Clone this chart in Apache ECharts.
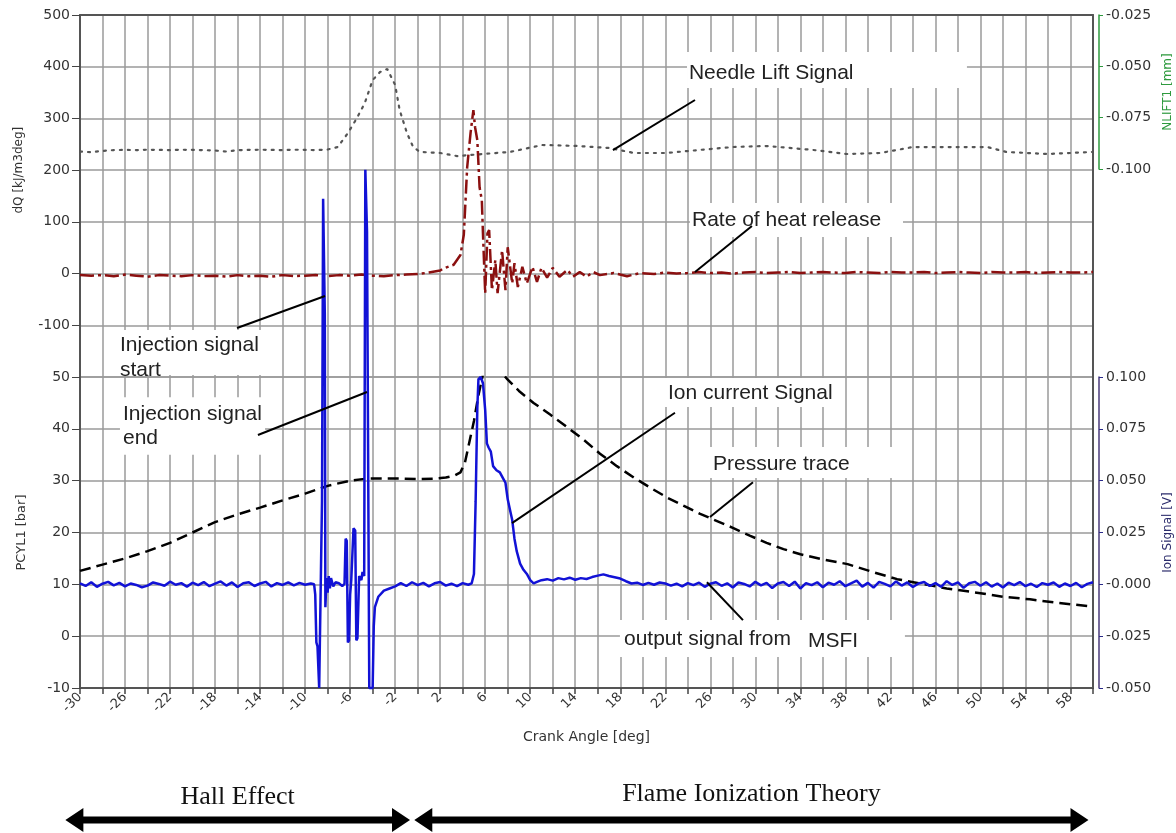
<!DOCTYPE html>
<html><head><meta charset="utf-8">
<script src="https://cdn.jsdelivr.net/npm/echarts@6/dist/echarts.min.js"></script>
<style>html,body{margin:0;padding:0;background:#fff}#c{width:1176px;height:833px}</style>
</head><body><div id="c"></div>
<script>
// ---------------- data (crank angle [deg], value) ----------------
const xRange = [-30, 60];
const dQRange = [-200, 500];
const nliftRange = [-0.1, -0.025];
const pcylRange = [-10, 50];
const ionRange = [-0.05, 0.1];

const needleLift = [
 [-30,-0.0915],[-29,-0.0918],[-28,-0.0912],[-27,-0.0908],[-26,-0.0907],[-25,-0.0908],[-24,-0.0906],[-23,-0.0907],
 [-22,-0.0908],[-21,-0.0906],[-20,-0.0907],[-19,-0.0908],[-18,-0.0910],[-17,-0.0915],[-16,-0.0908],[-15,-0.0907],
 [-14,-0.0906],[-13,-0.0907],[-12,-0.0908],[-11,-0.0906],[-10,-0.0907],[-9,-0.0908],[-8,-0.0905],[-7.1,-0.0893],
 [-6.2,-0.0825],[-5.4,-0.0752],[-4.7,-0.0679],[-4.0,-0.0567],[-3.35,-0.0528],[-2.7,-0.0513],[-2.0,-0.0591],
 [-1.6,-0.0713],[-0.95,-0.0825],[-0.4,-0.0893],[0.2,-0.0917],[2.0,-0.0922],[3.5,-0.0937],[5.8,-0.0927],
 [8.2,-0.0917],[11.1,-0.0883],[14.2,-0.0888],[17.1,-0.0898],[19.2,-0.0922],[22.1,-0.0922],[25.1,-0.0907],
 [28,-0.0893],[31,-0.0888],[35.1,-0.0907],[38.1,-0.0927],[41.1,-0.0922],[44,-0.0893],[47,-0.0893],
 [50.6,-0.0893],[52.3,-0.0917],[55.9,-0.0927],[60,-0.0917]
];

const heatRelease = [
 [-30,-3],[-29,-4],[-28,-3],[-27,-5],[-26,-2],[-25,-4],[-24,-6],[-23,-3],[-22,-4],[-21,-5],[-20,-3],[-19,-5],
 [-18,-4],[-17,-6],[-16,-3],[-15,-5],[-14,-4],[-13,-6],[-12,-3],[-11,-5],[-10,-4],[-9,-3],[-8,-5],[-7,-3],
 [-6,-4],[-5,-2],[-4,-4],[-3,-5],[-2,-3],[-1,-2],[0,-1],[1,2],[2,6],[2.3,10],[3.2,17],[3.8,36],[4.1,75],
 [4.4,206],[4.7,272],[4.95,316],[5.1,283],[5.3,258],[5.5,167],[5.7,142],[5.8,78],[6.0,-38],[6.2,78],[6.35,84],
 [6.6,-32],[6.9,26],[7.1,-38],[7.5,45],[7.8,-32],[8.0,51],[8.4,-19],[8.6,20],[8.9,-26],[9.3,13],[9.7,-19],
 [10.2,13],[10.6,-16],[11.0,11],[11.5,-8],[12.0,11],[12.6,-6],[13.3,7],[13.8,-6],[14.4,3],[15.0,-6],[15.6,3],
 [16.2,-3],[17.4,1],[18.6,-5],[19.8,1],[21,-1],[22,2],[23,0],[24,1],[25,3],[26,1],[27,2],[28,0],[29,2],[30,3],
 [31,1],[32,2],[33,3],[34,1],[35,2],[36,3],[37,2],[38,1],[39,3],[40,2],[41,1],[42,3],[43,2],[44,2],[45,3],
 [46,1],[47,2],[48,3],[49,2],[50,1],[51,3],[52,2],[53,2],[54,3],[55,1],[56,2],[57,3],[58,2],[59,2],[60,3]
];

const pressure = [
 [-30,12.6],[-28,13.8],[-26,15.0],[-24,16.4],[-22,18.0],[-20,20.0],[-18,22.0],[-16,23.5],[-14,24.8],[-12,26.2],
 [-10,27.5],[-8,29.0],[-6,30.0],[-4.5,30.4],[-3,30.4],[-1.5,30.4],[0,30.3],[1.5,30.4],[2.5,30.6],[3.3,31.0],
 [3.8,31.6],[4.2,33.5],[4.6,37.5],[5.0,41.5],[5.4,46.5],[5.8,50.5],[6.3,52.0],[6.8,51.8],[7.3,51.2],[8.0,49.5],
 [9.0,47.3],[10.3,45.0],[11.8,42.7],[13.3,40.3],[14.8,37.8],[16.2,35.2],[17.7,32.8],[19.2,30.6],[20.7,28.6],
 [22.2,26.7],[23.7,25.1],[25.1,23.6],[26.6,22.2],[28,20.9],[29.5,19.4],[31,18.0],[32.5,16.8],[34,15.8],
 [36,14.8],[38.2,13.9],[40.4,12.4],[42.6,11.0],[44.8,10.1],[47,9.2],[50,8.3],[52,7.6],[54.4,7.1],[57,6.4],[60,5.7]
];

const ionSignal = [
 [-30,0.0005],[-29.5,-0.0008],[-29,0.0010],[-28.5,-0.0012],[-28,0.0003],[-27.5,0.0012],[-27,-0.0005],[-26.5,0.0007],
 [-26,-0.0010],[-25.5,0.0004],[-25,-0.0003],[-24.5,-0.0014],[-24,-0.0006],[-23.5,0.0009],[-23,0.0002],[-22.5,-0.0007],
 [-22,0.0013],[-21.5,-0.0002],[-21,0.0006],[-20.5,-0.0011],[-20,0.0008],[-19.5,-0.0004],[-19,0.0011],[-18.5,-0.0009],
 [-18,0.0003],[-17.5,0.0014],[-17,-0.0006],[-16.5,0.0009],[-16,-0.0013],[-15.5,0.0005],[-15,0.0010],[-14.5,-0.0008],
 [-14,0.0004],[-13.5,0.0012],[-13,-0.0010],[-12.5,0.0006],[-12,-0.0003],[-11.5,0.0009],[-11,-0.0005],[-10.5,0.0007],
 [-10,-0.0002],[-9.5,0.0004],[-9.2,0.0],[-9.1,-0.005],[-9.0,-0.028],[-8.9,-0.030],[-8.75,-0.05],[-8.6,-0.05],
 [-8.5,0.04],[-8.4,0.186],[-8.3,0.186],[-8.25,0.13],[-8.2,-0.011],[-8.1,0.003],[-8.0,-0.004],[-7.9,0.004],
 [-7.8,-0.002],[-7.7,0.003],[-7.5,-0.001],[-7.3,0.001],[-7.0,0.0005],[-6.7,-0.0008],[-6.5,0.0002],[-6.4,0.022],
 [-6.3,0.021],[-6.2,-0.028],[-6.1,-0.027],[-6.0,-0.005],[-5.9,0.002],[-5.7,0.027],[-5.55,0.026],[-5.45,-0.027],
 [-5.35,-0.026],[-5.2,0.004],[-5.0,0.002],[-4.9,0.006],[-4.75,0.004],[-4.65,0.2],[-4.55,0.2],[-4.5,0.17],
 [-4.4,0.17],[-4.3,-0.05],[-4.0,-0.05],[-3.9,-0.02],[-3.8,-0.011],[-3.5,-0.006],[-3.0,-0.003],[-2.5,-0.002],
 [-2.0,-0.001],[-1.5,0.0006],[-1,-0.0008],[-0.5,0.0010],[0,-0.0004],[0.5,0.0007],[1,-0.0010],[1.5,0.0005],
 [2,0.0011],[2.5,-0.0006],[3,0.0003],[3.5,-0.0009],[4,0.0006],[4.5,-0.0002],[4.8,0.0005],[5.0,0.005],
 [5.15,0.04],[5.3,0.085],[5.4,0.099],[5.6,0.1],[5.8,0.097],[6.0,0.084],[6.15,0.068],[6.3,0.066],[6.5,0.064],
 [6.7,0.057],[7.0,0.055],[7.3,0.054],[7.6,0.051],[7.8,0.049],[8.0,0.041],[8.2,0.036],[8.4,0.031],[8.6,0.022],
 [8.8,0.016],[9.1,0.010],[9.4,0.007],[9.7,0.005],[10.0,0.002],[10.3,0.0005],[10.6,0.0012],[11,0.002],
 [11.5,0.0025],[12,0.0018],[12.5,0.0030],[13,0.0024],[13.5,0.0032],[14,0.0022],[14.5,0.0030],[15,0.0026],
 [15.5,0.0035],[16,0.0042],[16.5,0.0048],[17,0.0040],[17.5,0.0034],[18,0.0028],[18.5,0.0015],[19,0.0004],
 [19.5,0.0008],[20,-0.0003],[20.5,0.0007],[21,-0.0002],[21.5,0.0009],[22,0.0004],[22.5,-0.0006],[23,0.0003],
 [23.5,-0.0010],[24,0.0006],[24.5,-0.0004],[25,0.0008],[25.5,-0.0012],[26,0.0003],[26.5,0.0010],[27,-0.0007],
 [27.5,0.0005],[28,-0.0015],[28.5,0.0009],[29,0.0002],[29.5,-0.0010],[30,0.0012],[30.5,-0.0005],[31,0.0007],
 [31.5,-0.0018],[32,0.0004],[32.5,0.0011],[33,-0.0008],[33.5,0.0013],[34,-0.0020],[34.5,0.0006],[35,-0.0004],
 [35.5,0.0010],[36,-0.0014],[36.5,0.0008],[37,-0.0002],[37.5,0.0015],[38,-0.0009],[38.5,0.0005],[39,0.0018],
 [39.5,-0.0011],[40,0.0007],[40.5,-0.0016],[41,0.0012],[41.5,0.0002],[42,-0.0010],[42.5,0.0014],[43,-0.0006],
 [43.5,0.0009],[44,-0.0013],[44.5,0.0004],[45,0.0011],[45.5,-0.0008],[46,0.0006],[46.5,-0.0012],[47,0.0015],
 [47.5,-0.0003],[48,0.0009],[48.5,-0.0017],[49,0.0005],[49.5,0.0012],[50,-0.0007],[50.5,0.0010],[51,-0.0011],
 [51.5,0.0004],[52,-0.0015],[52.5,0.0008],[53,-0.0004],[53.5,0.0011],[54,-0.0009],[54.5,0.0003],[55,-0.0013],
 [55.5,0.0006],[56,-0.0002],[56.5,0.0009],[57,-0.0012],[57.5,0.0004],[58,-0.0008],[58.5,0.0007],[59,-0.0014],
 [59.5,0.0002],[60,0.0010]
];

// annotations, in data coordinates of the upper (U: deg/dQ) or lower (L: deg/bar) panel
const notes = [
 {g:'U', box:[23.93,428.4,48.8,358.8], texts:[['Needle Lift Signal',24.1,387.8]], lead:[[24.64,335.6],[17.35,238.9]]},
 {g:'U', box:[24.19,136.4,43.12,70.7], texts:[['Rate of heat release',24.37,103.6]], lead:[[29.70,92],[24.64,3]]},
 {g:'U', box:[-26.71,-109.2,-13.56,-196.2], texts:[['Injection signal',-26.45,-138.2],['start',-26.45,-186.5]], lead:[[-16.05,-105.3],[-8.23,-43.4]]},
 {g:'L', box:[-26.45,46.1,-13.56,35.0], texts:[['Injection signal',-26.18,42.9],['end',-26.18,38.2]], lead:[[-14.19,38.8],[-4.50,47.1]]},
 {g:'L', box:[21.97,49.8,37.70,44.2], texts:[['Ion current Signal',22.24,46.9]], lead:[[22.86,43.1],[8.38,21.8]]},
 {g:'L', box:[25.53,36.5,42.23,30.5], texts:[['Pressure trace',26.24,33.2]], lead:[[29.79,29.7],[25.97,23.0]]},
 {g:'L', box:[17.97,3.1,43.29,-4.0], texts:[['output signal from',18.33,-0.55],['MSFI',34.68,-0.9]], lead:[[28.90,3.1],[25.70,10.4]]}
];
const ranges = [
 {label:'Hall Effect', from:-31.3, to:-0.68, lift:10},
 {label:'Flame Ionization Theory', from:-0.3, to:59.6, lift:13}
];

// ---------------- chart ----------------
const chart = echarts.init(document.getElementById('c'), null, {renderer:'canvas'});
const GRID = '#9a9a9a', FRAME = '#555', TXT = '#333', FONT = 'DejaVu Sans';
const lbl = {fontFamily:FONT, fontSize:14, color:TXT};
const split = {show:true, lineStyle:{color:GRID, width:1.5}};
const frameLine = {show:true, onZero:false, lineStyle:{color:FRAME, width:2}};
const xCommon = {type:'value', min:xRange[0], max:xRange[1], interval:2};

chart.setOption({
 animation:false,
 backgroundColor:'#fff',
 grid:[
  {left:80, right:83, top:15, height:362, containLabel:false, outerBoundsMode:'none'},
  {left:80, right:83, top:15, height:154, containLabel:false, outerBoundsMode:'none'},
  {left:80, right:83, top:377, height:311, containLabel:false, outerBoundsMode:'none'}
 ],
 xAxis:[
  Object.assign({}, xCommon, {gridIndex:0, position:'top', axisLine:frameLine, axisTick:{show:false}, axisLabel:{show:false}, splitLine:split}),
  Object.assign({}, xCommon, {gridIndex:1, show:false}),
  Object.assign({}, xCommon, {gridIndex:2, position:'bottom', axisLine:frameLine,
    axisTick:{show:true, length:6, lineStyle:{color:'#444', width:1.5}},
    axisLabel:Object.assign({}, lbl, {fontSize:13, rotate:45, margin:7, formatter:v => ((v+30)%4===0 && v<60) ? String(v) : ''}),
    splitLine:split, name:'Crank Angle [deg]', nameLocation:'middle', nameGap:42,
    nameTextStyle:{fontFamily:FONT, fontSize:14, color:TXT}})
 ],
 yAxis:[
  {type:'value', gridIndex:0, position:'left', min:dQRange[0], max:dQRange[1], interval:100,
   axisLine:frameLine, axisTick:{show:true, length:8, lineStyle:{color:'#444'}},
   axisLabel:Object.assign({}, lbl, {showMinLabel:false, margin:10}), splitLine:split},
  {type:'value', gridIndex:0, position:'right', min:dQRange[0], max:dQRange[1],
   axisLine:frameLine, axisTick:{show:false}, axisLabel:{show:false}, splitLine:{show:false}},
  {type:'value', gridIndex:1, position:'right', offset:6, min:nliftRange[0], max:nliftRange[1], interval:0.025,
   axisLine:{show:true, onZero:false, lineStyle:{color:'#2e9a3e', width:1.5}}, axisTick:{show:true, length:4, lineStyle:{color:'#2e9a3e'}},
   axisLabel:Object.assign({}, lbl, {margin:7, formatter:v => v.toFixed(3)}), splitLine:{show:false},
   name:'NLIFT1 [mm]', nameLocation:'middle', nameGap:57, nameTextStyle:{fontFamily:FONT, fontSize:12, color:'#2e9a3e'}},
  {type:'value', gridIndex:2, position:'left', min:pcylRange[0], max:pcylRange[1], interval:10,
   axisLine:frameLine, axisTick:{show:true, length:8, lineStyle:{color:'#444'}},
   axisLabel:Object.assign({}, lbl, {margin:10}), splitLine:split,
   name:'PCYL1 [bar]', nameLocation:'middle', nameGap:52, nameTextStyle:{fontFamily:FONT, fontSize:13, color:TXT}},
  {type:'value', gridIndex:2, position:'right', offset:6, min:ionRange[0], max:ionRange[1], interval:0.025,
   axisLine:{show:true, onZero:false, lineStyle:{color:'#4a3a7a', width:1.5}}, axisTick:{show:true, length:4, lineStyle:{color:'#2a2a8a'}},
   axisLabel:Object.assign({}, lbl, {margin:7, formatter:v => Math.abs(v) < 1e-9 ? '-0.000' : v.toFixed(3)}), splitLine:{show:false},
   name:'Ion Signal [V]', nameLocation:'middle', nameGap:57, nameTextStyle:{fontFamily:FONT, fontSize:12, color:'#2b2b6b'}},
  {type:'value', gridIndex:2, position:'right', min:pcylRange[0], max:pcylRange[1],
   axisLine:frameLine, axisTick:{show:false}, axisLabel:{show:false}, splitLine:{show:false}}
 ],
 series:[
  {name:'Needle Lift Signal', type:'line', xAxisIndex:1, yAxisIndex:2, data:needleLift, showSymbol:false, z:3,
   lineStyle:{color:'#555', width:2.2, type:[2,6], cap:'round'}},
  {name:'Rate of heat release', type:'line', xAxisIndex:0, yAxisIndex:0, data:heatRelease, showSymbol:false, z:3,
   lineStyle:{color:'#8b1010', width:2.5, type:[14,4,3,4]}},
  {name:'Pressure trace', type:'line', xAxisIndex:2, yAxisIndex:3, data:pressure, showSymbol:false, z:3,
   lineStyle:{color:'#000', width:2.5, type:[11,6]}},
  {name:'Ion current Signal', type:'line', xAxisIndex:2, yAxisIndex:4, data:ionSignal, showSymbol:false, clip:false, z:4,
   lineStyle:{color:'#1212d6', width:2.5}}
 ]
});

// annotations placed through the axes' own scales
const fU = {xAxisIndex:0, yAxisIndex:0}, fL = {xAxisIndex:2, yAxisIndex:3};
const P = (g, x, y) => chart.convertToPixel(g === 'U' ? fU : fL, [x, y]);
const els = [];
notes.forEach(n => {
 const a = P(n.g, n.box[0], n.box[1]), b = P(n.g, n.box[2], n.box[3]);
 els.push({type:'rect', z:1, silent:true, shape:{x:a[0], y:a[1], width:b[0]-a[0], height:b[1]-a[1]}, style:{fill:'#fff'}});
 n.texts.forEach(t => {
  const p = P(n.g, t[1], t[2]);
  els.push({type:'text', z:10, x:p[0], y:p[1], style:{text:t[0], font:'21px "Liberation Sans", Arial, sans-serif', fill:'#222', verticalAlign:'middle'}});
 });
 const p1 = P(n.g, n.lead[0][0], n.lead[0][1]), p2 = P(n.g, n.lead[1][0], n.lead[1][1]);
 els.push({type:'line', z:10, shape:{x1:p1[0], y1:p1[1], x2:p2[0], y2:p2[1]}, style:{stroke:'#000', lineWidth:2}});
});
// dQ axis name (centred on the 500..-100 span like the original)
const dqc = P('U', -30, 200);
els.push({type:'text', z:10, x:dqc[0]-61, y:dqc[1], rotation:Math.PI/2,
 style:{text:'dQ [kJ/m3deg]', font:'12px "DejaVu Sans"', fill:TXT, align:'center', verticalAlign:'middle'}});
// range arrows below the chart
const AY = 820, HW = 18, HH = 12, ST = 3.5;
ranges.forEach(r => {
 const x1 = P('L', r.from, 0)[0], x2 = P('L', r.to, 0)[0];
 els.push({type:'polygon', z:10, shape:{points:[[x1,AY],[x1+HW,AY-HH],[x1+HW,AY-ST],[x2-HW,AY-ST],[x2-HW,AY-HH],[x2,AY],[x2-HW,AY+HH],[x2-HW,AY+ST],[x1+HW,AY+ST],[x1+HW,AY+HH]]}, style:{fill:'#000'}});
 els.push({type:'text', z:10, x:(x1+x2)/2, y:AY-r.lift, style:{text:r.label, font:'26px "Liberation Serif", serif', fill:'#111', align:'center', verticalAlign:'bottom'}});
});
chart.setOption({graphic:{elements:els}});
</script>
</body></html>
